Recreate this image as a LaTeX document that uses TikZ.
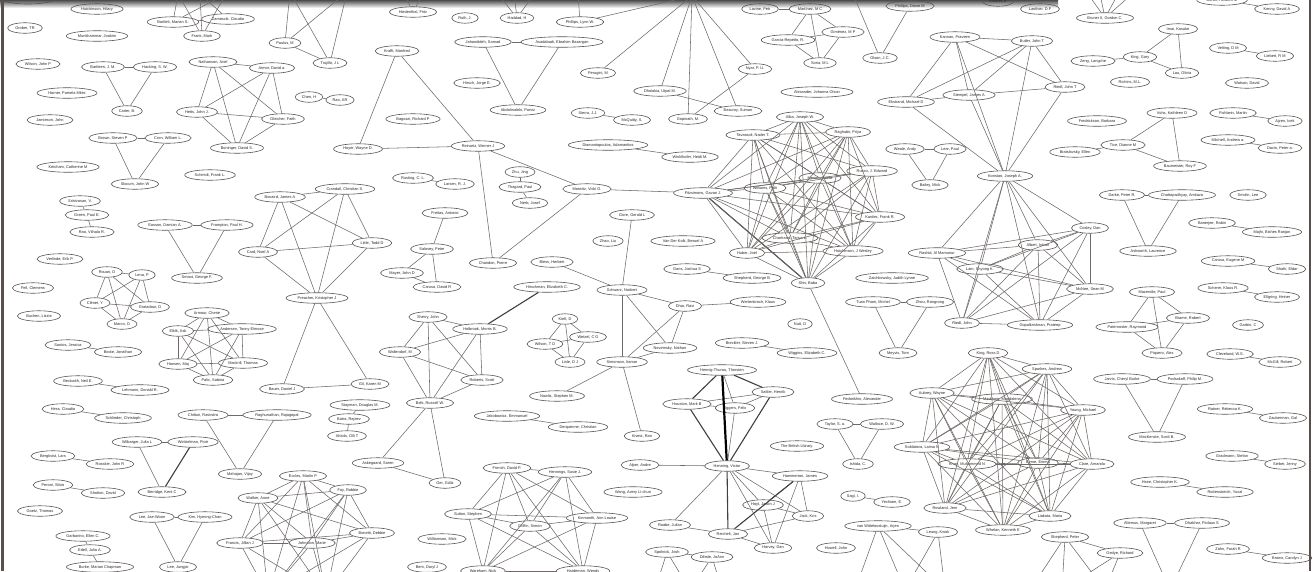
\documentclass[tikz,border=0pt]{standalone}
\usepackage{fontspec}
\setmainfont{Liberation Sans}
\usetikzlibrary{shapes.geometric}
\definecolor{edgec}{RGB}{110,105,103}
\definecolor{nodec}{RGB}{90,85,83}
\definecolor{textc}{RGB}{40,40,40}
\definecolor{framec}{RGB}{88,80,76}
\newcommand\aufont{\fontsize{3.9}{4.6}\selectfont}
\newcommand\cliquedraw[2][]{\foreach \a [count=\i] in {#2}{\foreach \b [count=\j] in {#2}{\ifnum\j>\i\relax\draw[edge,#1] (\a) -- (\b);\fi}}}
\tikzset{
 au/.style={ellipse, draw=nodec, line width=0.6pt, inner xsep=2.6pt, inner ysep=0.8pt, minimum height=10.5pt, font=\aufont, text=textc},
 edge/.style={draw=edgec, line width=0.55pt},
 thk/.style={draw=black!75, line width=1.1pt},
 vthk/.style={draw=black, line width=2.2pt}
}
\begin{document}
\begin{tikzpicture}[x=1pt,y=-1pt]
\useasboundingbox (0,0) rectangle (1313,571);
\clip (0,0) rectangle (1313,571);
\fill[white] (0,0) rectangle (1313,571);
\shade[top color=black!70, bottom color=white] (0,0) rectangle (1058,8);
\fill[framec] (1,0) rectangle (4,571);
\fill[framec] (1308.5,0) rectangle (1311,571);
% off-canvas ends
\coordinate (tA1) at (178,-6); \coordinate (tA2) at (200,-6); \coordinate (tA3) at (226,-6);
\coordinate (tB) at (290,-8); \coordinate (tC) at (347,-8);
\coordinate (tD1) at (404,-6); \coordinate (tD2) at (423,-6);
\coordinate (tE1) at (498,-6); \coordinate (tE2) at (514,-6); \coordinate (tE3) at (534,-6);
\coordinate (tG) at (578,-6); \coordinate (hub) at (692,-4); \coordinate (tH) at (853,-6);
\coordinate (tF1) at (1088,-6); \coordinate (tF2) at (1100,-6); \coordinate (tF3) at (1118,-6); \coordinate (tF4) at (1132,-6);
\coordinate (eb1) at (268,595); \coordinate (eb2) at (326,595);
\coordinate (sb1) at (655,590); \coordinate (sb2) at (690,590); \coordinate (sb3) at (722,590);
\coordinate (vb1) at (855,590); \coordinate (vb2) at (905,590); \coordinate (vb3) at (945,590);
\coordinate (pb1) at (1030,590); \coordinate (pb2) at (1062,590); \coordinate (pb3) at (1105,590);
\coordinate (ab) at (1170,590);
% nodes
\node[au, minimum width=60pt, minimum height=14pt] (tl) at (28,-3) {};
\node[au] (hutch) at (97,9) {Hutchinson, Hilary};
\node[au] (grober) at (25,28) {Grober, TR};
\node[au] (munk) at (97,36) {Munkhammar, Joakim};
\node[au] (bartlett) at (173,22) {Bartlett, Marian S.};
\node[au] (zamos) at (228,19) {Zamoscik, Claudia};
\node[au] (frank) at (202,36) {Frank, Mark};
\node[au] (paulus) at (285,43) {Paulus, M};
\node[au] (trujillo) at (330,63) {Trujillo, J L};
\node[au] (wilsonjp) at (38,64) {Wilson, John P};
\node[au] (bartleen) at (103,67) {Bartleen, J. M.};
\node[au] (hacking) at (155,67) {Hacking, S. W.};
\node[au] (carter) at (127,111) {Carter, B.};
\node[au] (horner) at (67,93) {Horner, Pamela Miles};
\node[au] (jamieson) at (50,120) {Jamieson, John};
\node[au] (nathanson) at (213,62) {Nathanson, Ariel};
\node[au] (armor) at (272,68) {Armor, David a.};
\node[au] (hetts) at (197,112) {Hetts, John J.};
\node[au] (gleicher) at (283,119) {Gleicher, Faith};
\node[au] (boninger) at (237,148) {Boninger, David S.};
\node[au] (chen) at (309,97) {Chen, H};
\node[au] (raoar) at (340,100) {Rao, AR};
\node[au] (brown) at (113,138) {Brown, Steven P};
\node[au] (cron) at (168,138) {Cron, William L.};
\node[au] (slocum) at (135,184) {Slocum, John W};
\node[au] (ketcham) at (68,167) {Ketcham, Catherine M};
\node[au] (schmidt) at (210,175) {Schmidt, Frank L.};
\node[au] (hied) at (413,12) {Hiedenthal, Fritz};
\node[au] (ruth) at (465,18) {Ruth, J.};
\node[au] (haddad) at (517,18) {Haddad, H};
\node[au] (phillipsl) at (580,22) {Phillips, Lynn W.};
\node[au] (krafft) at (397,51) {Krafft, Manfred};
\node[au] (jahan) at (483,42) {Jahandideh, Samad};
\node[au] (asad) at (562,42) {Asadabadi, Ebrahim Bazargan};
\node[au] (hirsch) at (477,83) {Hirsch, Jorge E.};
\node[au] (abdol) at (518,110) {Abdolmaleki, Parviz};
\node[au] (perugini) at (598,73) {Perugini, M};
\node[au] (dholakia) at (660,91) {Dholakia, Utpal M.};
\node[au] (bagozzi) at (413,119) {Bagozzi, Richard P};
\node[au] (sierra) at (588,113) {Sierra, J.J.};
\node[au] (mcquitty) at (632,120) {McQuitty, S.};
\node[au] (hoyer) at (358,149) {Hoyer, Wayne D.};
\node[au] (reinartz) at (478,146) {Reinartz, Werner J};
\node[au] (diamant) at (608,145) {Diamantopoulos, Adamantios};
\node[au] (winkl) at (690,157) {Winklhofer, Heidi M.};
\node[au] (rusting) at (413,178) {Rusting, C. L.};
\node[au] (larsen) at (455,184) {Larsen, R. J.};
\node[au] (zhu) at (520,172) {Zhu, Jing};
\node[au] (thagard) at (520,187) {Thagard, Paul};
\node[au] (morwitz) at (587,189) {Morwitz, Vicki G.};
\node[au] (crandall) at (345,189) {Crandall, Christian S.};
\node[au] (lavine) at (760,9) {Lavine, Petr};
\node[au] (martinez) at (810,9) {Martínez, M C};
\node[au] (gimenez) at (843,32) {Giménez, M P};
\node[au] (garcia) at (788,40) {García-Repetto, R.};
\node[au] (soria) at (820,63) {Soria, M L};
\node[au] (olson) at (880,58) {Olson, J.C.};
\node[au] (phillipsd) at (910,6) {Phillips, Diane M};
\node[au] (nyar) at (755,69) {Nyar, P. U.};
\node[au] (alexander) at (817,92) {Alexander, Johanna Olson};
\node[au] (gopinath) at (688,119) {Gopinath, M.};
\node[au] (basuroy) at (738,111) {Basuroy, Suman};
\node[au] (alba) at (800,117) {Alba, Joseph W.};
\node[au] (tavassoli) at (753,135) {Tavassoli, Nader T.};
\node[au] (raghubir) at (848,132) {Raghubir, Priya};
\node[au] (kannan) at (955,37) {Kannan, Praveen};
\node[au] (ekstrand) at (906,102) {Ekstrand, Michael D};
\node[au] (stempel) at (969,95) {Stempel, James A};
\node[au] (weale) at (905,149) {Weale, Andy};
\node[au] (lear) at (950,149) {Lear, Paul};
\node[au] (bailey) at (930,185) {Bailey, Mick};
\node[au] (russo) at (872,171) {Russo, J. Edward};
\node[au] (menon) at (820,178) {Menon, Geeta};
\node[au] (williams) at (765,188) {Williams, Patti};
\node[au] (fitz) at (703,193) {Fitzsimons, Gavan J.};
\node[au] (fischer) at (998,1) {Fischer, E};
\node[au] (lanthier) at (1040,9) {Lanthier, D.F};
\node[au] (bruner) at (1105,18) {Bruner II, Gordon C.};
\node[au] (baron) at (1222,0) {Baron, Reuben M};
\node[au] (kenny) at (1277,9) {Kenny, David A};
\node[au] (imai) at (1178,29) {Imai, Kosuke};
\node[au] (kingg) at (1140,57) {King, Gary};
\node[au] (zeng) at (1093,61) {Zeng, Langche};
\node[au] (lau) at (1182,73) {Lau, Olivia};
\node[au] (velting) at (1228,48) {Velting, D M};
\node[au] (liebert) at (1275,56) {Liebert, R M};
\node[au] (richins) at (1130,82) {Richins, M.L.};
\node[au] (watson) at (1247,83) {Watson, David};
\node[au] (butler) at (1032,41) {Butler, John T};
\node[au] (riedlt) at (1065,87) {Riedl, John T};
\node[au] (konstan) at (1005,176) {Konstan, Joseph A.};
\node[au] (fredrickson) at (1097,121) {Fredrickson, Barbara};
\node[au] (vohs) at (1172,113) {Vohs, Kathleen D};
\node[au] (tice) at (1123,145) {Tice, Dianne M};
\node[au] (baumeister) at (1180,166) {Baumeister, Roy F};
\node[au] (brats) at (1075,152) {Bratslavsky, Ellen};
\node[au] (fishbein) at (1233,113) {Fishbein, Martin};
\node[au] (ajzen) at (1285,121) {Ajzen, Icek};
\node[au] (mitchell) at (1228,140) {Mitchell, Andrew a.};
\node[au] (dacin) at (1280,148) {Dacin, Peter a.};
\node[au] (srini) at (80,201) {Srinivasan, V.};
\node[au] (green) at (87,215) {Green, Paul E.};
\node[au] (raovr) at (92,232) {Rao, Vithala R.};
\node[au] (easson) at (165,225) {Easson, Damian A.};
\node[au] (frampton) at (227,225) {Frampton, Paul H.};
\node[au] (smoot) at (197,278) {Smoot, George F.};
\node[au] (verlinde) at (60,259) {Verlinde, Erik P.};
\node[au] (rouan) at (107,272) {Rouan, D};
\node[au] (lena) at (142,275) {Lena, P};
\node[au] (clenet) at (95,303) {Clénet, Y};
\node[au] (gratadour) at (150,307) {Gratadour, D};
\node[au] (marco) at (122,324) {Marco, O};
\node[au] (fell) at (33,288) {Fell, Clemens};
\node[au] (buchen) at (39,316) {Buchen, Lizzie};
\node[au] (santos) at (68,345) {Santos, Jessica};
\node[au] (boote) at (118,352) {Boote, Jonathan};
\node[au] (armour) at (207,313) {Armour, Cherie};
\node[au] (elkit) at (178,331) {Elklit, Ask};
\node[au] (andersen) at (242,329) {Andersen, Tonny Elmose};
\node[au] (hansen) at (178,364) {Hansen, Maj};
\node[au] (mackrill) at (243,363) {Mackrill, Thomas};
\node[au] (palic) at (213,380) {Palic, Sabina};
\node[au] (bovaird) at (280,197) {Bovaird, James A};
\node[au] (card) at (258,252) {Card, Noel A};
\node[au] (preacher) at (317,298) {Preacher, Kristopher J};
\node[au] (beckwith) at (78,381) {Beckwith, Neil E.};
\node[au] (little) at (372,243) {Little, Todd D};
\node[au] (freitas) at (445,213) {Freitas, Antonio};
\node[au] (salovey) at (432,249) {Salovey, Peter};
\node[au] (mayer) at (402,273) {Mayer, John D};
\node[au] (caruso) at (437,287) {Caruso, David R};
\node[au] (nerb) at (530,203) {Nerb, Josef};
\node[au] (chandon) at (493,263) {Chandon, Pierre};
\node[au] (bless) at (552,262) {Bless, Herbert};
\node[au] (hirschman) at (547,287) {Hirschman, Elizabeth C.};
\node[au] (clore) at (632,215) {Clore, Gerald L};
\node[au] (zhao) at (608,241) {Zhao, Liu};
\node[au] (schwarz) at (622,290) {Schwarz, Norbert};
\node[au] (sherry) at (428,317) {Sherry, John};
\node[au] (holbrook) at (480,329) {Holbrook, Morris B.};
\node[au] (wallendorf) at (400,352) {Wallendorf, M};
\node[au] (roberts) at (482,380) {Roberts, Scott};
\node[au] (kieft) at (565,319) {Kieft, D};
\node[au] (wetzel) at (588,337) {Wetzel, C G};
\node[au] (wilsontd) at (545,344) {Wilson, T D};
\node[au] (lisle) at (570,362) {Lisle, D J};
\node[au] (simonson) at (622,362) {Simonson, Itamar};
\node[au] (gil) at (370,384) {Gil, Karen M};
\node[au] (kardes) at (880,217) {Kardes, Frank R.};
\node[au] (chartrand) at (790,238) {Chartrand, Tanya L.};
\node[au] (huber) at (747,253) {Huber, Joel};
\node[au] (hutchinson) at (853,251) {Hutchinson, J Wesley};
\node[au] (shiv) at (808,283) {Shiv, Baba};
\node[au] (vanderkolk) at (683,241) {Van Der Kolk, Bessel A};
\node[au] (gans) at (687,269) {Gans, Joshua S};
\node[au] (shepherdg) at (752,278) {Shepherd, George B};
\node[au] (zaich) at (892,278) {Zaichkowsky, Judith Lynne};
\node[au] (rashid) at (937,253) {Rashid, Al Mamunur};
\node[au] (dhar) at (685,306) {Dhar, Ravi};
\node[au] (wertenbroch) at (758,302) {Wertenbroch, Klaus};
\node[au] (novemsky) at (670,348) {Novemsky, Nathan};
\node[au] (nutt) at (800,324) {Nutt, D};
\node[au] (breckler) at (742,343) {Breckler, Steven J.};
\node[au] (wiggins) at (807,353) {Wiggins, Elizabeth C.};
\node[au] (tuanpham) at (873,302) {Tuan Pham, Michel};
\node[au] (zhou) at (930,302) {Zhou, Rongrong};
\node[au] (meyvis) at (898,353) {Meyvis, Tom};
\node[au] (hennigt) at (722,370) {Hennig-Thurau, Thorsten};
\node[au] (darke) at (1122,195) {Darke, Peter R.};
\node[au] (chatto) at (1182,195) {Chattopadhyay, Amitava};
\node[au] (ashworth) at (1148,251) {Ashworth, Laurence};
\node[au] (smolin) at (1248,195) {Smolin, Lee};
\node[au] (banerjee) at (1212,223) {Banerjee, Rabin};
\node[au] (majhi) at (1272,232) {Majhi, Bishes Ranjan};
\node[au] (carusoe) at (1228,261) {Caruso, Eugene M};
\node[au] (shafir) at (1287,269) {Shafir, Eldar};
\node[au] (scherer) at (1223,288) {Scherer, Klaus R.};
\node[au] (ellgring) at (1277,297) {Ellgring, Heiner};
\node[au] (garbin) at (1248,325) {Garbin, C};
\node[au] (cleveland) at (1230,354) {Cleveland, W.S.};
\node[au] (mcgill) at (1280,362) {McGill, Robert};
\node[au] (cosley) at (1090,228) {Cosley, Dan};
\node[au] (albert) at (1038,245) {Albert, Istvan};
\node[au] (lam) at (980,269) {Lam, Shyong K.};
\node[au] (mcnee) at (1090,289) {McNee, Sean M};
\node[au] (gopal) at (1040,325) {Gopalkrishnan, Prateep};
\node[au] (riedlj) at (962,323) {Riedl, John};
\node[au] (mazerolle) at (1152,292) {Mazerolle, Paul};
\node[au] (brame) at (1188,318) {Brame, Robert};
\node[au] (paternoster) at (1127,327) {Paternoster, Raymond};
\node[au] (piquero) at (1162,353) {Piquero, Alex};
\node[au] (kingr) at (988,353) {King, Ross D};
\node[au] (sparkes) at (1047,369) {Sparkes, Andrew};
\node[au] (jarvis) at (1122,379) {Jarvis, Cheryl Burke};
\node[au] (podsakoff) at (1185,379) {Podsakoff, Philip M.};
\node[au] (lehmann) at (140,390) {Lehmann, Donald R.};
\node[au] (bauer) at (282,389) {Bauer, Daniel J};
\node[au] (hess) at (63,409) {Hess, Claudia};
\node[au] (schlieder) at (123,418) {Schlieder, Christoph};
\node[au] (chitturi) at (203,415) {Chitturi, Ravindra};
\node[au] (raghunathan) at (277,415) {Raghunathan, Rajagopal};
\node[au] (mahajan) at (240,474) {Mahajan, Vijay};
\node[au] (wilbarger) at (137,442) {Wilbarger, Julia L};
\node[au] (winkielman) at (193,442) {Winkielman, Piotr};
\node[au] (berridge) at (162,492) {Berridge, Kent C};
\node[au] (bergkvist) at (53,456) {Bergkvist, Lars};
\node[au] (rossiter) at (110,464) {Rossiter, John R};
\node[au] (peroni) at (53,485) {Peroni, Silvio};
\node[au] (shotton) at (103,493) {Shotton, David};
\node[au] (goetz) at (40,511) {Goetz, Thomas};
\node[au] (leejw) at (152,517) {Lee, Jae-Woon};
\node[au] (kimhc) at (205,517) {Kim, Hyeong-Chan};
\node[au] (leejj) at (178,567) {Lee, Jungjai};
\node[au] (garbarino) at (83,536) {Garbarino, Ellen C.};
\node[au] (edell) at (90,550) {Edell, Julia A.};
\node[au] (burke) at (100,567) {Burke, Marian Chapman};
\node[au] (eccles) at (303,476) {Eccles, Martin P};
\node[au] (walker) at (258,498) {Walker, Anne};
\node[au] (francis) at (240,543) {Francis, Jillian J};
\node[au] (johnston) at (312,543) {Johnston, Marie};
\node[au] (foy) at (348,490) {Foy, Robbie};
\node[au] (bonetti) at (372,533) {Bonetti, Debbie};
\node[au] (stayman) at (360,405) {Stayman, Douglas M.};
\node[au] (batra) at (349,419) {Batra, Rajeev};
\node[au] (ahtola) at (347,436) {Ahtola, Olli T};
\node[au] (belk) at (430,403) {Belk, Russell W.};
\node[au] (askegaard) at (378,463) {Askegaard, Soren};
\node[au] (ger) at (445,483) {Ger, Güliz};
\node[au] (nowlis) at (557,396) {Nowlis, Stephen M.};
\node[au] (jakob) at (507,416) {Jakobowicz, Emmanuel};
\node[au] (derquenne) at (578,427) {Derquenne, Christian};
\node[au] (kivetz) at (642,436) {Kivetz, Ran};
\node[au] (williamson) at (442,539) {Williamson, Mick};
\node[au] (bem) at (427,567) {Bem, Daryl J};
\node[au] (french) at (507,468) {French, David P.};
\node[au] (hennings) at (565,472) {Hennings, Susie J.};
\node[au] (sutton) at (468,514) {Sutton, Stephen};
\node[au] (griffin) at (530,526) {Griffin, Simon};
\node[au] (kinmonth) at (597,518) {Kinmonth, Ann Louise};
\node[au] (wareham) at (483,571) {Wareham, Nick};
\node[au] (hardeman) at (583,571) {Hardeman, Wendy};
\node[au] (alper) at (640,465) {Alper, Andre};
\node[au] (wang) at (633,492) {Wang, Avery Li-chun};
\node[au] (houston) at (687,404) {Houston, Mark B};
\node[au] (eggers) at (735,408) {Eggers, Felix};
\node[au] (sattler) at (773,392) {Sattler, Henrik};
\node[au] (henning) at (727,466) {Henning, Victor};
\node[au] (fedorikhin) at (862,399) {Fedorikhin, Alexander};
\node[au] (britlib) at (797,446) {The British Library.};
\node[au] (hammerton) at (800,476) {Hammerton, James};
\node[au] (hoyt) at (763,505) {Hoyt, Jason J};
\node[au] (jack) at (808,516) {Jack, Kris};
\node[au] (reichelt) at (728,534) {Reichelt, Jan};
\node[au] (harvey) at (773,548) {Harvey, Dan};
\node[au] (raabe) at (670,525) {Raabe, Julian};
\node[au] (spolnick) at (667,552) {Spolnick, Josh};
\node[au] (difede) at (712,557) {Difede, JoAnn};
\node[au] (taylor) at (835,424) {Taylor, S. a.};
\node[au] (wallace) at (882,424) {Wallace, D. W.};
\node[au] (ishida) at (858,464) {Ishida, C.};
\node[au] (sagi) at (853,496) {Sagi, I.};
\node[au] (yechiam) at (892,502) {Yechiam, E.};
\node[au] (vanwitt) at (878,526) {van Witteloostuijn, Arjen};
\node[au] (leung) at (938,532) {Leung, Kwok};
\node[au] (howell) at (836,548) {Howell, John};
\node[au] (aubrey) at (932,393) {Aubrey, Wayne};
\node[au] (soldatova) at (922,447) {Soldatova, Larisa N};
\node[au] (rowland) at (945,508) {Rowland, Jem};
\node[au] (khan) at (967,464) {Khan, Muhammed N};
\node[au] (markham) at (1002,399) {Markham, Magdalena};
\node[au] (young) at (1083,410) {Young, Michael};
\node[au] (byrne) at (1038,463) {Byrne, Emma};
\node[au] (clare) at (1092,464) {Clare, Amanda};
\node[au] (liakata) at (1050,516) {Liakata, Maria};
\node[au] (whelan) at (1003,530) {Whelan, Kenneth E};
\node[au] (mackenzie) at (1157,437) {MacKenzie, Scott B.};
\node[au] (ratner) at (1225,409) {Ratner, Rebecca K.};
\node[au] (zauberman) at (1283,418) {Zauberman, Gal};
\node[au] (gradmann) at (1232,456) {Gradmann, Stefan};
\node[au] (sieber) at (1285,464) {Sieber, Jenny};
\node[au] (hsee) at (1160,482) {Hsee, Christopher K.};
\node[au] (rottenstreich) at (1225,492) {Rottenstreich, Yuval};
\node[au] (altemus) at (1140,523) {Altemus, Margaret};
\node[au] (dhabhar) at (1202,523) {Dhabhar, Firdaus S};
\node[au] (shepherdp) at (1065,537) {Shepherd, Peter};
\node[au] (gedye) at (1120,553) {Gedye, Richard};
\node[au] (zahn) at (1228,549) {Zahn, Farah R};
\node[au] (brownc) at (1287,558) {Brown, Carolyn J};
% edges
\foreach \p/\q in {bartleen/carter,hacking/carter,bartleen/hacking,chen/raoar,brown/slocum,cron/slocum,brown/cron,
 bartlett/zamos,tA1/bartlett,tA1/frank,tA2/frank,tA3/frank,tA3/bartlett,tA2/zamos,
 tB/paulus,tB/trujillo,tC/paulus,tC/trujillo,paulus/trujillo,tD1/hied,tD2/hied,tE1/haddad,tE2/haddad,tE3/haddad,
 hub/phillipsl,hub/perugini,hub/dholakia,hub/gopinath,hub/basuroy,hub/nyar,tG/phillipsl,dholakia/basuroy,gopinath/nyar,
 jahan/asad,jahan/abdol,asad/abdol,sierra/mcquitty,krafft/hoyer,krafft/reinartz,hoyer/reinartz,reinartz/morwitz,reinartz/chandon,morwitz/chandon,morwitz/fitz,
 diamant/winkl,rusting/larsen,zhu/thagard,thagard/nerb,lavine/martinez,tH/olson,phillipsd/olson,
 kannan/butler,kannan/ekstrand,kannan/stempel,kannan/konstan,kannan/riedlt,butler/ekstrand,butler/stempel,butler/riedlt,butler/konstan,ekstrand/stempel,ekstrand/konstan,stempel/konstan,riedlt/konstan,
 weale/bailey,lear/bailey,weale/lear,shiv/fedorikhin,imai/kingg,imai/lau,kingg/lau,zeng/kingg,velting/liebert,baron/kenny,
 tF1/bruner,tF2/bruner,tF3/bruner,tF4/bruner,vohs/tice,vohs/baumeister,tice/baumeister,brats/tice,fishbein/ajzen,mitchell/dacin,
 srini/green,green/raovr,easson/frampton,easson/smoot,frampton/smoot,santos/boote,preacher/bauer,preacher/gil,bauer/gil,beckwith/lehmann,
 freitas/salovey,salovey/mayer,salovey/caruso,mayer/caruso,bless/schwarz,clore/schwarz,schwarz/simonson,schwarz/dhar,schwarz/novemsky,
 dhar/wertenbroch,dhar/novemsky,dhar/simonson,simonson/novemsky,simonson/nowlis,simonson/kivetz,gans/shepherdg,tuanpham/zhou,tuanpham/meyvis,zhou/meyvis,breckler/wiggins,
 darke/chatto,darke/ashworth,chatto/ashworth,banerjee/majhi,carusoe/shafir,scherer/ellgring,cleveland/mcgill,jarvis/podsakoff,jarvis/mackenzie,podsakoff/mackenzie,
 hess/schlieder,chitturi/raghunathan,chitturi/mahajan,raghunathan/mahajan,wilbarger/winkielman,wilbarger/berridge,bergkvist/rossiter,peroni/shotton,
 leejw/kimhc,leejw/leejj,kimhc/leejj,garbarino/edell,edell/burke,stayman/batra,batra/ahtola,belk/askegaard,belk/ger,askegaard/ger,jakob/derquenne,
 hennigt/eggers,houston/sattler,houston/eggers,sattler/eggers,eggers/henning,alper/henning,raabe/henning,raabe/reichelt,henning/hammerton,henning/hoyt,henning/jack,henning/harvey,
 hammerton/jack,hammerton/harvey,hoyt/jack,hoyt/harvey,jack/reichelt,reichelt/harvey,hoyt/hammerton,spolnick/difede,spolnick/sb1,spolnick/sb2,difede/sb2,difede/sb3,
 taylor/wallace,taylor/ishida,wallace/ishida,sagi/yechiam,vanwitt/leung,vanwitt/vb1,vanwitt/vb2,vanwitt/vb3,leung/vb2,leung/vb3,
 ratner/zauberman,gradmann/sieber,hsee/rottenstreich,altemus/ab,dhabhar/ab,altemus/dhabhar,shepherdp/gedye,shepherdp/pb1,shepherdp/pb2,shepherdp/pb3,gedye/pb2,gedye/pb3,zahn/brownc}
 {\draw[edge] (\p) -- (\q);}
\draw[edge] (stempel) -- (riedlt);
\draw[thk] (hirschman) -- (holbrook);
\draw[thk] (winkielman) -- (berridge);
\draw[thk] (hennigt) -- (houston);
\draw[thk] (hennigt) -- (sattler);
\draw[thk] (houston) -- (henning);
\draw[thk] (sattler) -- (henning);
\draw[thk] (henning) -- (reichelt);
\draw[thk] (hammerton) -- (reichelt);
\draw[vthk] (hennigt) -- (henning);
\draw[thk] (fitz) -- (shiv);
\cliquedraw{nathanson,armor,hetts,gleicher,boninger}
\cliquedraw{martinez,garcia,gimenez,soria}
\cliquedraw{konstan,rashid,albert,lam,cosley,mcnee,gopal,riedlj}
\cliquedraw{alba,tavassoli,raghubir,russo,menon,williams,fitz,kardes,chartrand,huber,hutchinson,shiv}
\cliquedraw{rouan,lena,clenet,gratadour,marco}
\cliquedraw{armour,elkit,andersen,hansen,mackrill,palic}
\cliquedraw{bovaird,crandall,card,little,preacher}
\cliquedraw{sherry,holbrook,wallendorf,roberts,belk}
\cliquedraw{kieft,wetzel,wilsontd,lisle}
\cliquedraw{mazerolle,brame,paternoster,piquero}
\cliquedraw{eccles,walker,francis,johnston,foy,bonetti,eb1,eb2}
\cliquedraw{french,hennings,sutton,griffin,kinmonth,wareham,hardeman}
\cliquedraw{kingr,sparkes,aubrey,markham,young,soldatova,khan,byrne,clare,rowland,liakata,whelan}
\end{tikzpicture}
\end{document}
